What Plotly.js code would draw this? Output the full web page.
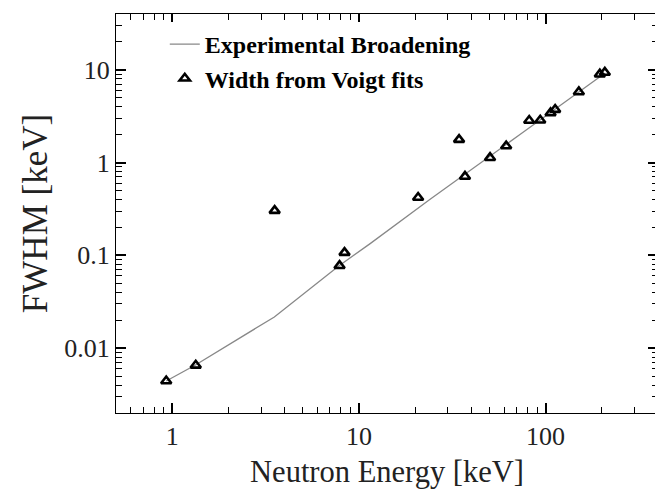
<!DOCTYPE html>
<html>
<head>
<meta charset="utf-8">
<script src="https://cdn.plot.ly/plotly-3.0.1.min.js"></script>
<style>
html, body { margin: 0; padding: 0; overflow: hidden; background: #fff; }
#chart { width: 665px; height: 494px; }
</style>
</head>
<body>
<div id="chart"></div>
<script>
// Experimental broadening curve (Neutron energy [keV] vs FWHM [keV])
const curveEnergy = [0.929, 1.332, 3.525, 7.83, 11.49, 23.97, 72.9, 207.6];
const curveFWHM   = [0.00442, 0.00658, 0.0217, 0.0774, 0.134, 0.400, 2.01, 9.21];

// Widths from Voigt fits
const fitEnergy = [0.929, 1.337, 3.538, 7.876, 8.375, 20.76, 34.4, 37.0, 50.4, 61.5, 81.7, 93.6, 106.3, 112.5, 150.7, 195.2, 207.6];
const fitFWHM   = [0.00442, 0.00653, 0.304, 0.0774, 0.107, 0.420, 1.768, 0.709, 1.13, 1.508, 2.84, 2.86, 3.43, 3.73, 5.78, 8.98, 9.37];

const seriesNames = ["Experimental Broadening", "Width from Voigt fits"];
const xTitle = "Neutron Energy [keV]";
const yTitle = "FWHM [keV]";

const xRange = [0.5, 400];
const yRange = [0.002, 40];

const serif = '"Liberation Serif", "Times New Roman", serif';

const traces = [
  {
    x: curveEnergy, y: curveFWHM, type: "scatter", mode: "lines",
    name: seriesNames[0],
    line: { color: "#888888", width: 1.3 }
  },
  {
    x: fitEnergy, y: fitFWHM, type: "scatter", mode: "markers",
    name: seriesNames[1],
    marker: { symbol: "triangle-up-open", size: 9, color: "#000", line: { color: "#000", width: 2.6 } }
  }
];

function makeAxis(rng) {
  return {
    type: "log",
    range: rng.map(Math.log10),
    showgrid: false, zeroline: false,
    showline: true, linecolor: "#000",
    mirror: "allticks",
    ticks: "inside", ticklen: 10, tickwidth: 2, tickcolor: "#000",
    dtick: 1,
    minor: { ticks: "inside", ticklen: 6, tickwidth: 1, tickcolor: "#000" },
    tickfont: { family: serif, size: 26, color: "#222" }
  };
}

const layout = {
  width: 665, height: 494,
  margin: { l: 116, r: 7, t: 14, b: 81 },
  font: { family: serif },
  xaxis: Object.assign(makeAxis(xRange), {
    title: { text: xTitle, font: { family: serif, size: 30.5, color: "#222" }, standoff: 10 }
  }),
  yaxis: Object.assign(makeAxis(yRange), {
    title: { text: yTitle, font: { family: serif, size: 35, color: "#222" }, standoff: 6 }
  }),
  legend: {
    x: 0.09, y: 0.98,
    font: { family: serif, size: 24, color: "#000", weight: "bold" }
  }
};

Plotly.newPlot("chart", traces, layout, { displayModeBar: false, staticPlot: true });
</script>
</body>
</html>
